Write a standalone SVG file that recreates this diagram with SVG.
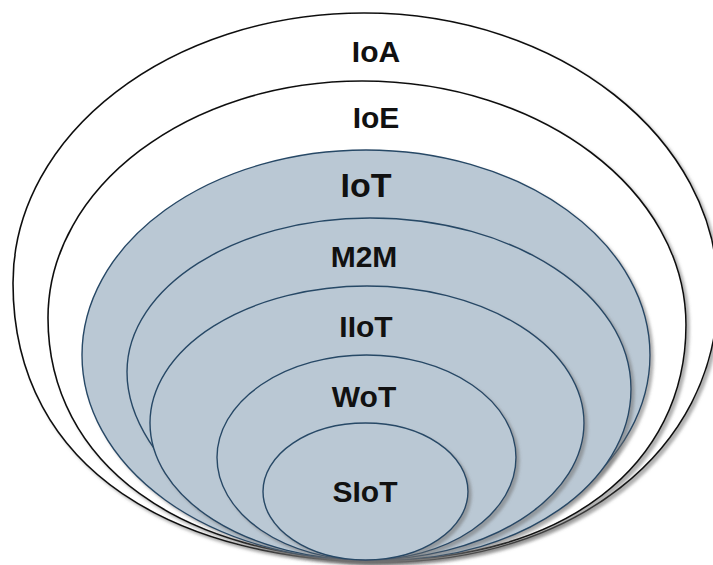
<svg xmlns="http://www.w3.org/2000/svg" width="713" height="565" viewBox="0 0 713 565">
  <defs>
    <filter id="shadow" x="-5%" y="-5%" width="115%" height="115%">
      <feDropShadow dx="3" dy="3" stdDeviation="1.5" flood-color="#6f6f6f" flood-opacity="0.55"/>
    </filter>
    <style>
      .outer { fill: #ffffff; stroke: #111111; stroke-width: 1.6; filter: url(#shadow); }
      .inner { fill: #bac8d4; stroke: #274866; stroke-width: 1.4; filter: url(#shadow); }
      .label { font-family: "Liberation Sans", Arial, sans-serif; font-weight: bold; font-size: 30px; fill: #111111; text-anchor: middle; }
    </style>
  </defs>
  <rect width="713" height="565" fill="#ffffff"/>

  <!-- outermost layer -->
  <g id="ioa">
    <path class="outer" d="M364,13 C559.4,13 718,138 718,292 C718,454 568.2,562 385,562 C180.4,562 13,472.7 13,283 C13,134 170.2,13 364,13 Z"/>
    <text class="label" x="376" y="62">IoA</text>
  </g>

  <g id="ioe">
    <path class="outer" d="M362,81 C540.8,81 686,190.3 686,325 C686,466 563.6,560 380,560 C180.8,560 48,463.2 48,318 C48,187.2 188.7,81 362,81 Z"/>
    <text class="label" x="376" y="128">IoE</text>
  </g>

  <g id="iot">
    <ellipse class="inner" cx="366" cy="355" rx="284" ry="205"/>
    <text class="label" x="366" y="197" style="font-size:34px">IoT</text>
  </g>

  <g id="m2m">
    <path class="inner" d="M370,218 C514.1,218 631,294.6 631,389 C631,483.4 520.8,560 385,560 C256,560 127,466 127,372 C127,287 235.9,218 370,218 Z"/>
    <text class="label" x="364" y="267">M2M</text>
  </g>

  <g id="iiot">
    <ellipse class="inner" cx="367" cy="423" rx="217" ry="137"/>
    <text class="label" x="366" y="337">IIoT</text>
  </g>

  <g id="wot">
    <ellipse class="inner" cx="366.5" cy="457.5" rx="149.5" ry="102.5"/>
    <text class="label" x="364" y="407">WoT</text>
  </g>

  <g id="siot">
    <ellipse class="inner" cx="365.5" cy="491.5" rx="102.5" ry="68.5"/>
    <text class="label" x="365" y="502">SIoT</text>
  </g>
</svg>
